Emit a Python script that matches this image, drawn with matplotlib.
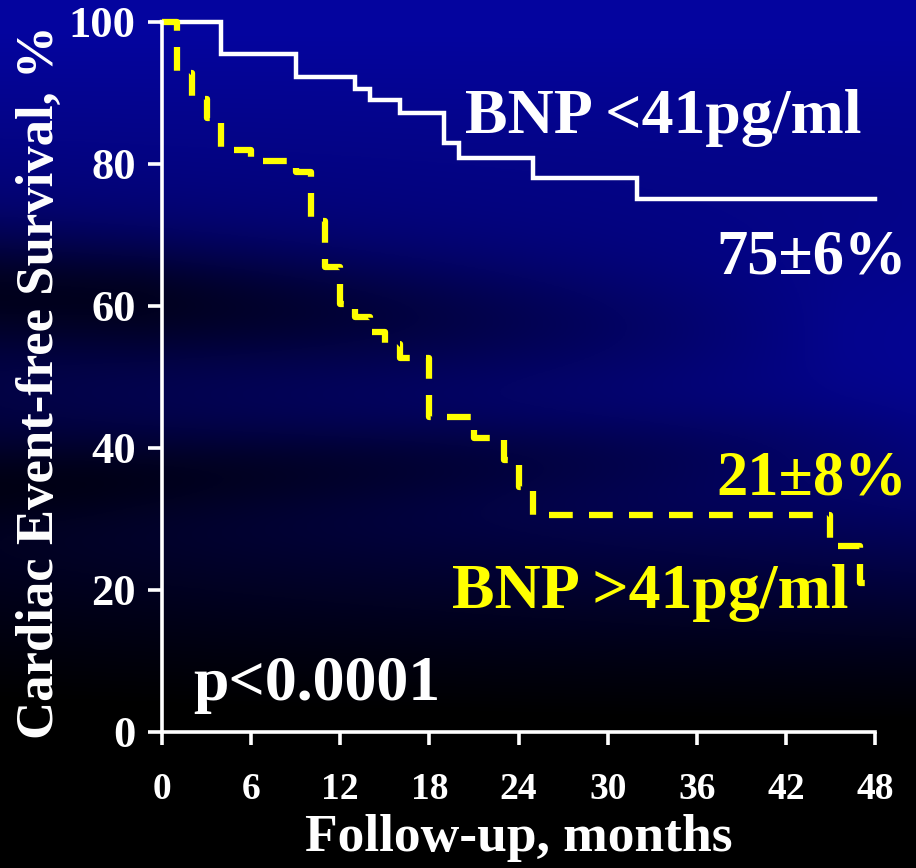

# Kaplan-Meier style plot: cardiac event-free survival by BNP group
import matplotlib.pyplot as plt
import numpy as np

# low BNP group (<41 pg/ml)
low_months = [0, 4, 9, 13, 14, 16, 19, 20, 25, 32, 48]
low_surv = [100, 95.5, 92.3, 90.6, 89.0, 87.2, 83.0, 80.8, 78.0, 75, 75]

# high BNP group (>41 pg/ml)
high_months = [0, 1, 2, 3, 4, 6, 9, 10, 11, 12, 13, 14, 15, 16, 18, 21, 23,
               24, 25, 45, 47, 48]
high_surv = [100, 92.8, 89.2, 86.5, 82.0, 80.4, 78.9, 72.0, 65.5, 60.3, 58.5,
             56.3, 54.6, 52.7, 44.4, 41.4, 38.3, 34.5, 30.6, 26.2, 21, 21]

xticks = [0, 6, 12, 18, 24, 30, 36, 42, 48]
yticks = [0, 20, 40, 60, 80, 100]

plt.rcParams['font.family'] = ['Liberation Serif', 'DejaVu Serif']
plt.rcParams['font.weight'] = 'bold'

fig = plt.figure(figsize=(9.16, 8.68), dpi=100)

# dark blue slide background with a few dark diagonal streaks
bg = fig.add_axes([0, 0, 1, 1])
u, v = np.meshgrid(np.linspace(0, 1, 400), np.linspace(0, 1, 400))
blue = 1.05 - 1.3 * v + 0.45 * u * np.exp(-((v - 0.48) / 0.22) ** 2)
blue *= 1 - 0.7 * np.exp(-((v - (0.34 + 0.05 * u)) / 0.07) ** 2) * np.clip(1.2 - 1.3 * u, 0, 1)
blue *= 1 - 0.6 * np.exp(-((v - (0.56 - 0.05 * u)) / 0.05) ** 2) * np.clip(1.1 - u, 0, 1)
blue = np.clip(blue, 0, 1) * 0.62
img = np.dstack([blue * 0.03, blue * 0.03, blue])
bg.imshow(img, aspect='auto', extent=[0, 1, 0, 1], origin='upper')
bg.set_axis_off()

ax = fig.add_axes([0.1769, 0.1567, 0.7784, 0.8180])
ax.patch.set_alpha(0)

ax.step(low_months, low_surv, where='post', color='white', lw=3.2,
        clip_on=False, solid_joinstyle='miter')
ax.step(high_months, high_surv, where='post', color='#ffff00', lw=4.5,
        linestyle=(0, (3.8, 2.6)), dash_capstyle='butt', clip_on=False)

ax.set_xlim(0, 48)
ax.set_ylim(0, 100)
ax.set_xticks(xticks)
ax.set_yticks(yticks)
for s in ['top', 'right']:
    ax.spines[s].set_visible(False)
for s in ['left', 'bottom']:
    ax.spines[s].set_color('white')
    ax.spines[s].set_linewidth(2.6)
ax.tick_params(axis='x', colors='white', width=2.6, length=9, pad=20,
               labelsize=27)
ax.tick_params(axis='y', colors='white', width=2.6, length=10, pad=9,
               labelsize=32)

ax.set_xlabel('Follow-up, months', color='white', fontsize=38.5,
              fontweight='bold')
ax.xaxis.set_label_coords(0.5, -0.115)
ax.set_ylabel('Cardiac Event-free Survival, %', color='white', fontsize=38,
              fontweight='bold')
ax.yaxis.set_label_coords(-0.137, 0.493)

ax.text(20.4, 84.4, 'BNP <41pg/ml', color='white', fontsize=46,
        fontweight='bold')
ax.text(37.3, 64.6, '75±6%', color='white', fontsize=45,
        fontweight='bold', clip_on=False)
ax.text(37.3, 33.4, '21±8%', color='#ffff00', fontsize=45,
        fontweight='bold', clip_on=False)
ax.text(19.5, 17.5, 'BNP >41pg/ml', color='#ffff00', fontsize=46,
        fontweight='bold')
ax.text(2.1, 4.5, 'p<0.0001', color='white', fontsize=46,
        fontweight='bold')

fig.savefig('out.png', dpi=100)
